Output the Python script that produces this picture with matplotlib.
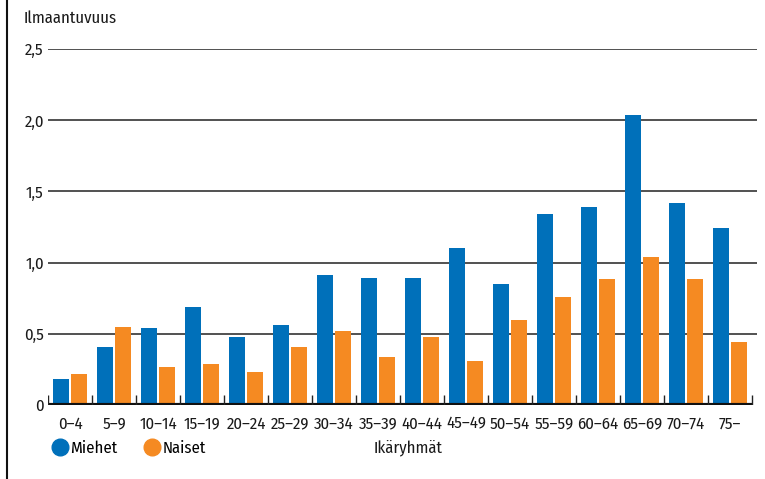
import matplotlib
matplotlib.use("Agg")
import matplotlib.pyplot as plt
from matplotlib.lines import Line2D
import numpy as np

categories = ["0–4", "5–9", "10–14", "15–19", "20–24", "25–29", "30–34", "35–39",
              "40–44", "45–49", "50–54", "55–59", "60–64", "65–69", "70–74", "75–"]
miehet = [0.18, 0.41, 0.54, 0.69, 0.48, 0.56, 0.91, 0.89, 0.89, 1.10, 0.85, 1.34, 1.39, 2.04, 1.42, 1.24]
naiset = [0.22, 0.55, 0.27, 0.29, 0.23, 0.41, 0.52, 0.34, 0.48, 0.31, 0.60, 0.76, 0.885, 1.04, 0.885, 0.44]
yticks = [0, 0.5, 1.0, 1.5, 2.0, 2.5]
ytick_labels = ["0", "0,5", "1,0", "1,5", "2,0", "2,5"]

plt.rcParams['font.family'] = ["Fira Sans Condensed", "Roboto Condensed", "DejaVu Sans"]

BLUE = "#0070BA"
ORANGE = "#F58A22"
TXT = "#1a1a1a"
FS = 12

fig = plt.figure(figsize=(7.65, 4.79), dpi=100)
ax = fig.add_axes([48/765, 1-405/479, 709/765, (405-49)/479])

n = len(categories)
x = np.arange(n) + 0.5
w = 0.36
ax.bar(x - 0.2, miehet, width=w, color=BLUE, zorder=2)
ax.bar(x + 0.21, naiset, width=w, color=ORANGE, zorder=2)

ax.set_xlim(0, 16 * 709 / 704)
ax.set_ylim(0, 2.5)
for s in ax.spines.values():
    s.set_visible(False)

for yv in yticks[1:]:
    ax.axhline(yv, color="#222222", lw=1.1, zorder=1)
ax.plot([0, 16], [0, 0], color="#111111", lw=3, zorder=3, solid_capstyle="butt")
ax.vlines(np.arange(n + 1), 0, 0.07, color="#222222", lw=1, zorder=3)

ax.set_yticks(yticks)
ax.set_yticklabels(ytick_labels)
ax.set_xticks(x)
ax.set_xticklabels(categories)
ax.tick_params(axis="y", length=0, pad=3, labelsize=FS, labelcolor=TXT)
ax.tick_params(axis="x", length=0, pad=8, labelsize=FS, labelcolor=TXT)

fig.text(24/765, 1-18/479, "Ilmaantuvuus", fontsize=FS, color=TXT, ha="left", va="center")
fig.text(408/765, 1-448/479, "Ikäryhmät", fontsize=FS, color=TXT, ha="center", va="center")

handles = [Line2D([], [], marker="o", ls="", color=BLUE, markersize=12),
           Line2D([], [], marker="o", ls="", color=ORANGE, markersize=12)]
fig.legend(handles, ["Miehet", "Naiset"], loc="center left", bbox_to_anchor=(50/765, 1-448/479),
           ncol=2, frameon=False, fontsize=FS, handletextpad=0.0, columnspacing=1.5,
           handlelength=1.2, borderaxespad=0, borderpad=0)

fig.add_artist(Line2D([7/765, 7/765], [0, 1], color="#111111", lw=1.5))

fig.savefig("out.png", dpi=100)
